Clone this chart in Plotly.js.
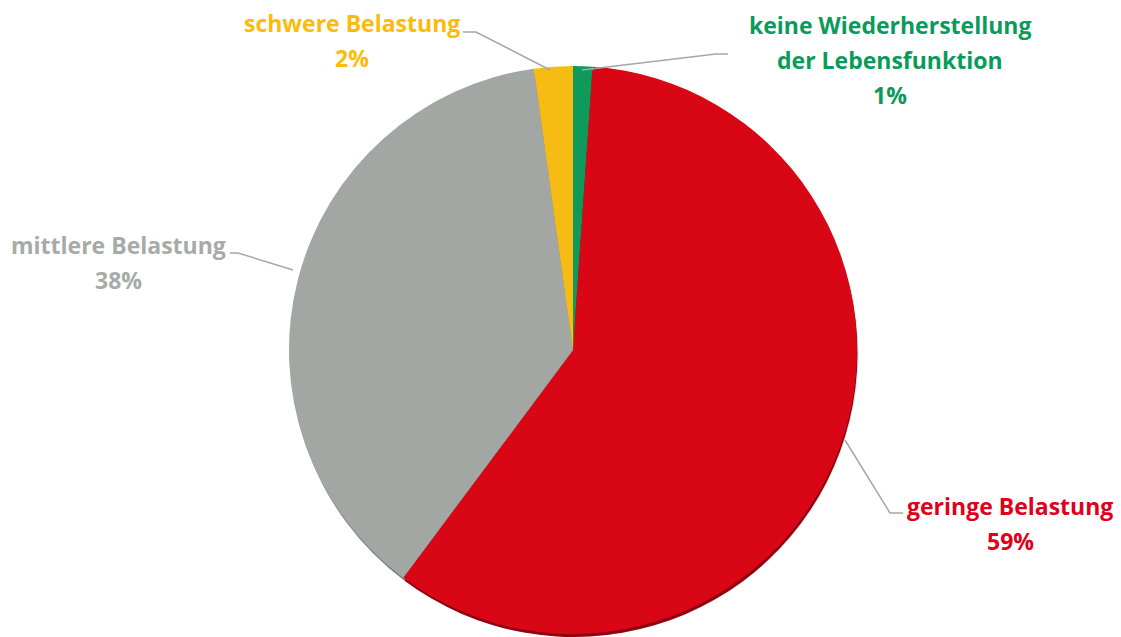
<!DOCTYPE html>
<html><head><meta charset="utf-8">
<script src="https://cdn.plot.ly/plotly-3.0.1.min.js"></script>
<style>html,body{margin:0;padding:0;background:#fff}#chart{width:1121px;height:637px}</style>
</head><body><div id="chart"></div>
<script>
// ---- data ----
const categories = ["keine Wiederherstellung<br>der Lebensfunktion", "geringe Belastung", "mittlere Belastung", "schwere Belastung"];
const values = [1.1, 59.1, 37.6, 2.2];
const sliceColors = ["#0F995B", "#D90715", "#A2A7A3", "#F6BC14"];
const rimColors = ["#07603A", "#8E0410", "#7D827E", "#B88A0A"];
const textColors = ["#0A9A5A", "#E0001A", "#A6ABA7", "#FBBB0A"];

// ---- layout helpers (pixel positions) ----
const W = 1121, H = 637;
const px = x => x / W, py = y => 1 - y / H;
const cx = 573, cy = 350, R = 284;
function dom(dx, dy, dr) {
  return {x: [px(cx + dx - R - dr), px(cx + dx + R + dr)], y: [py(cy + dy + R + dr), py(cy + dy - R - dr)]};
}
// label anchor (center x, first-line center y) per category
const labelPos = [[890, 25], [1010, 506], [118, 245], [352, 23]];
const linePitch = 35;
// leader lines per category (pixel polylines)
const leaders = [
  [[582, 70], [716, 54], [728, 54]],
  [[845, 440], [890, 513], [903, 513]],
  [[230, 253], [238, 253], [293, 270]],
  [[463, 32], [476, 32], [550, 70]]
];

const base = {type: "pie", values: values, labels: categories, sort: false, direction: "clockwise", rotation: 0,
  textinfo: "none", hoverinfo: "none", showlegend: false};
const traces = [
  Object.assign({}, base, {domain: dom(2, 7, 3), marker: {colors: values.map(() => "#E6E6E6")}}),
  Object.assign({}, base, {domain: dom(1, 4, 0), marker: {colors: rimColors}}),
  Object.assign({}, base, {domain: dom(0, 0, 0), marker: {colors: sliceColors}})
];

const total = values.reduce((a, b) => a + b, 0);
const annotations = [];
categories.forEach((c, i) => {
  const lines = c.split("<br>").concat([Math.round(values[i] / total * 100) + "%"]);
  lines.forEach((t, k) => {
    annotations.push({x: px(labelPos[i][0]), y: py(labelPos[i][1] + k * linePitch), xref: "paper", yref: "paper",
      text: t, showarrow: false, xanchor: "center", yanchor: "middle",
      font: {family: "'Open Sans', sans-serif", size: 23, color: textColors[i], weight: "bold"}});
  });
});
const shapes = leaders.map(pts => ({type: "path", xref: "paper", yref: "paper",
  path: pts.map((p, k) => (k ? "L" : "M") + px(p[0]) + "," + py(p[1])).join(" "),
  line: {color: "#A6A6A6", width: 1.5}}));

Plotly.newPlot("chart", traces, {
  width: W, height: H, margin: {l: 0, r: 0, t: 0, b: 0},
  paper_bgcolor: "#fff", plot_bgcolor: "#fff", annotations: annotations, shapes: shapes
}, {displayModeBar: false, staticPlot: true});
</script></body></html>
